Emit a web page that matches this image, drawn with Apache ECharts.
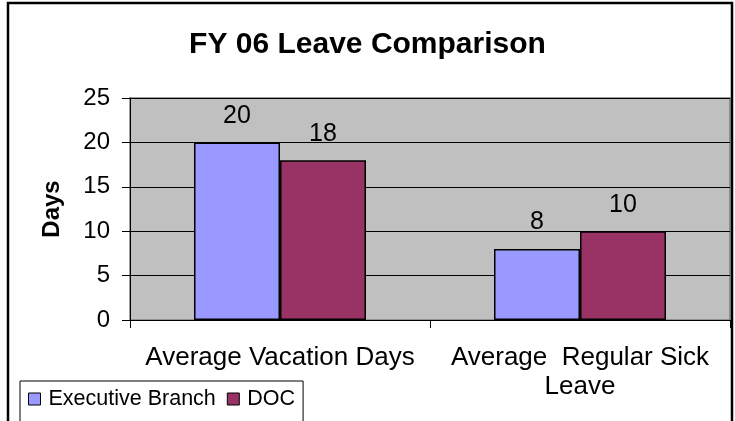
<!DOCTYPE html>
<html>
<head>
<meta charset="utf-8">
<script src="https://cdn.jsdelivr.net/npm/echarts@6/dist/echarts.min.js"></script>
<style>
html,body{margin:0;padding:0;background:#fff;}
#c{width:735px;height:421px;}
</style>
</head>
<body>
<div id="c"></div>
<script>
const categories = ["Average Vacation Days", "Average  Regular Sick Leave"];
const categoryLabels = ["Average Vacation Days", "Average  Regular Sick\nLeave"];
const executiveBranch = [20, 8];
const doc = [18, 10];
const seriesNames = ["Executive Branch", "DOC"];
const yTicks = [0, 5, 10, 15, 20, 25];

const chart = echarts.init(document.getElementById('c'), null, {renderer: 'canvas'});
const font = '"Liberation Sans", Arial, sans-serif';
chart.setOption({
  animation: false,
  textStyle: {fontFamily: font, color: '#000'},
  title: {
    text: 'FY 06 Leave Comparison',
    left: 'center', top: 25,
    textStyle: {fontFamily: font, fontWeight: 'bold', fontSize: 30, color: '#000'}
  },
  graphic: [{
    type: 'rect', shape: {x: 8, y: 3, width: 724, height: 440},
    style: {fill: 'none', stroke: '#000', lineWidth: 2.5}, silent: true, z: 100
  }],
  grid: {
    left: 130, right: 5, top: 98, bottom: 101,
    show: true, backgroundColor: '#C0C0C0', borderColor: '#808080', borderWidth: 1.5
  },
  legend: {
    left: 20, top: 381,
    data: seriesNames,
    icon: 'rect', itemWidth: 12, itemHeight: 12, itemGap: 11,
    borderColor: '#000', borderWidth: 1,
    padding: [7, 8, 30, 8],
    itemStyle: {borderColor: '#000', borderWidth: 1},
    textStyle: {fontFamily: font, fontSize: 21.5, color: '#000', padding: [0, 0, 0, 3]}
  },
  xAxis: {
    type: 'category',
    data: categories,
    axisLine: {lineStyle: {color: '#000', width: 1}},
    axisTick: {show: true, length: 8, lineStyle: {color: '#000'}},
    axisLabel: {
      interval: 0, hideOverlap: false,
      fontFamily: font, fontSize: 26, color: '#000', margin: 23, lineHeight: 29,
      formatter: (v, i) => categoryLabels[i]
    }
  },
  yAxis: {
    type: 'value', min: yTicks[0], max: yTicks[yTicks.length - 1], interval: 5,
    name: 'Days', nameLocation: 'middle', nameGap: 66, nameRotate: 90,
    nameTextStyle: {fontFamily: font, fontWeight: 'bold', fontSize: 24, color: '#000'},
    axisLine: {show: true, lineStyle: {color: '#000'}},
    axisTick: {show: true, length: 8, lineStyle: {color: '#000'}},
    axisLabel: {fontFamily: font, fontSize: 24, color: '#000', margin: 20},
    splitLine: {show: true, lineStyle: {color: '#000', width: 1}}
  },
  series: [
    {
      name: seriesNames[0], type: 'bar', data: executiveBranch,
      barWidth: 86, barGap: '0%',
      itemStyle: {color: '#9999FF', borderColor: '#000', borderWidth: 1.5},
      label: {show: true, position: 'top', distance: 14, fontFamily: font, fontSize: 25, color: '#000'}
    },
    {
      name: seriesNames[1], type: 'bar', data: doc,
      barWidth: 86, barGap: '0%',
      itemStyle: {color: '#993366', borderColor: '#000', borderWidth: 1.5},
      label: {show: true, position: 'top', distance: 14, fontFamily: font, fontSize: 25, color: '#000'}
    }
  ]
});
</script>
</body>
</html>
